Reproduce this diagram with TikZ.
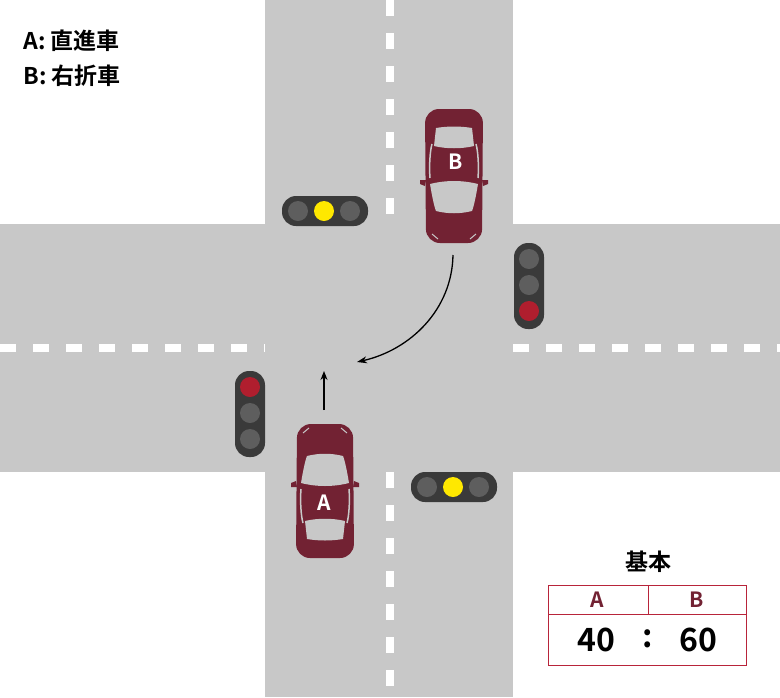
\documentclass[tikz,border=0pt]{standalone}
\usepackage{fontspec}
\setmainfont{Noto Sans CJK JP}[BoldFont={Noto Sans CJK JP Bold}]
\usetikzlibrary{arrows.meta}
\definecolor{road}{HTML}{C8C8C8}
\definecolor{carc}{HTML}{722233}
\definecolor{tl}{HTML}{3A3A3A}
\definecolor{lamp}{HTML}{5E5E5E}
\definecolor{red1}{HTML}{B01E2E}
\definecolor{yel}{HTML}{FFE800}
\definecolor{tab}{HTML}{B8243A}
\tikzset{
 lane/.style={white,line width=8pt,dash pattern=on 16pt off 17pt},
 tlbox/.style={fill=tl,rounded corners=14pt},
 lampc/.style={circle,minimum size=20pt,inner sep=0pt},
 car/.pic={
  \fill[carc,rounded corners=14pt] (-28,-67) -- (28,-67) -- (29,67) -- (-29,67) -- cycle;
  \fill[carc] (-29,-10) -- (-34,-8) -- (-34,-4) -- (-28,-4) -- cycle;
  \fill[carc] (29,-10) -- (34,-8) -- (34,-4) -- (28,-4) -- cycle;
  \fill[road] (-24,-8) .. controls (-22,-20) and (-20,-30) .. (-18,-35) .. controls (-6,-38) and (6,-38) .. (18,-35) .. controls (20,-30) and (22,-20) .. (24,-8) .. controls (8,-4) and (-8,-4) .. cycle;
  \fill[road] (-20,30) .. controls (-8,27) and (8,27) .. (20,30) -- (18,48) .. controls (6,50) and (-6,50) .. (-18,48) -- cycle;
  \draw[road,line width=1.5pt] (-24,-2) .. controls (-25,10) and (-24,25) .. (-22,32);
  \draw[road,line width=1.5pt] (24,-2) .. controls (25,10) and (24,25) .. (22,32);
  \draw[road,line width=1pt] (-22,-58) -- (-16,-63);
  \draw[road,line width=1pt] (22,-58) -- (16,-63);
 },
 lab/.style={font=\bfseries\fontsize{21pt}{21pt}\selectfont}
}
\begin{document}
\begin{tikzpicture}[x=1pt,y=-1pt]
\useasboundingbox (0,0) rectangle (780,697);
\fill[white] (0,0) rectangle (780,697);
\fill[road] (265,0) rectangle (513,697);
\fill[road] (0,224) rectangle (780,472);
\draw[lane] (390,0) -- (390,224);
\draw[lane] (390,472) -- (390,697);
\draw[lane] (0,348) -- (265,348);
\draw[lane] (513,348) -- (780,348);
% traffic lights
\fill[tlbox] (282,196) rectangle (368,226);
\node[lampc,fill=lamp] (t1) at (298,211) {};
\node[lampc,fill=yel] (t2) at (324,211) {};
\node[lampc,fill=lamp] (t3) at (350,211) {};
\fill[tlbox] (514,243) rectangle (544,329);
\node[lampc,fill=lamp] (r1) at (529,259) {};
\node[lampc,fill=lamp] (r2) at (529,285) {};
\node[lampc,fill=red1] (r3) at (529,311) {};
\fill[tlbox] (235,371) rectangle (265,457);
\node[lampc,fill=red1] (l1) at (250,387) {};
\node[lampc,fill=lamp] (l2) at (250,413) {};
\node[lampc,fill=lamp] (l3) at (250,439) {};
\fill[tlbox] (411,472) rectangle (497,502);
\node[lampc,fill=lamp] (b1) at (427,487) {};
\node[lampc,fill=yel] (b2) at (453,487) {};
\node[lampc,fill=lamp] (b3) at (479,487) {};
% cars
\pic at (325,491) {car};
\node[lab,white] (ca) at (324,503) {A};
\pic[rotate=180] at (454,176) {car};
\node[lab,white] (cb) at (456,162) {B};
\coordinate (a0) at (324,410);
\coordinate (a1) at (324,371);
\draw[-{Stealth[length=9pt,width=7pt]},line width=1.3pt] (a0) -- (a1);
\coordinate (b0) at (453,255);
\coordinate (b1) at (357,362);
\draw[-{Stealth[length=10pt,width=7pt]},line width=1.3pt] (b0) .. controls (452,310) and (410,350) .. (b1);
% legend
\node[lab,anchor=west,font=\bfseries\fontsize{23pt}{23pt}\selectfont] (la) at (20,41) {A: 直進車};
\node[lab,anchor=west,font=\bfseries\fontsize{23pt}{23pt}\selectfont] (lb) at (20,76) {B: 右折車};
% table
\node[lab,font=\bfseries\fontsize{23pt}{23pt}\selectfont] (kh) at (648,562) {基本};
\draw[tab,line width=1pt] (548,585) rectangle (746,665);
\draw[tab,line width=1pt] (548,614) -- (746,614);
\draw[tab,line width=1pt] (648,585) -- (648,614);
\node[lab,carc] (ha) at (597,600) {A};
\node[lab,carc] (hb) at (697,600) {B};
\node[lab,font=\bfseries\fontsize{32pt}{32pt}\selectfont] (v1) at (596,640) {40};
\node[lab,font=\bfseries\fontsize{32pt}{32pt}\selectfont] (v2) at (648,639) {:};
\node[lab,font=\bfseries\fontsize{32pt}{32pt}\selectfont] (v3) at (698,640) {60};
\end{tikzpicture}
\end{document}
